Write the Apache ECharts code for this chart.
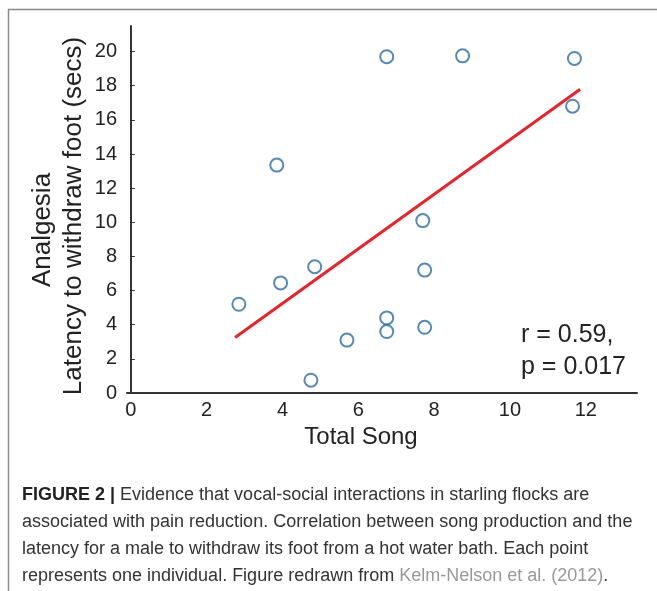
<!DOCTYPE html>
<html>
<head>
<meta charset="utf-8">
<script src="https://cdn.jsdelivr.net/npm/echarts@6/dist/echarts.min.js"></script>
<style>
html,body{margin:0;padding:0;background:#fff;}
#chart{width:657px;height:591px;}
</style>
</head>
<body>
<div id="chart"></div>
<script>
// ---- data ----
var songX   = [6.75, 8.75, 11.7, 11.65, 3.85, 7.7, 4.85, 3.95, 7.75, 2.85, 6.75, 6.75, 7.75, 5.7, 4.75];
var latency = [19.7, 19.75, 19.6, 16.8, 13.35, 10.1, 7.4, 6.45, 7.2, 5.2, 4.4, 3.6, 3.85, 3.1, 0.75];
var fitX = [2.75, 11.85];
var fitY = [3.25, 17.8];
var xTicks = [0, 2, 4, 6, 8, 10, 12];
var yTicks = [0, 2, 4, 6, 8, 10, 12, 14, 16, 18, 20];
var statLines = ['r = 0.59,', 'p = 0.017'];

var points = songX.map(function (x, i) { return [x, latency[i]]; });
var fitLine = fitX.map(function (x, i) { return [x, fitY[i]]; });

var chart = echarts.init(document.getElementById('chart'), null, {renderer: 'canvas'});
var font = 'Liberation Sans, Arial, Helvetica, sans-serif';
var axisColor = '#333';
var capSize = 18;

chart.setOption({
  animation: false,
  backgroundColor: '#fff',
  textStyle: {fontFamily: font},
  grid: {left: 127, top: 26, right: 20, bottom: 198, containLabel: false},
  xAxis: {
    type: 'value', min: -0.1, max: 13.35,
    axisLine: {show: true, lineStyle: {color: axisColor, width: 2}},
    axisTick: {show: false},
    splitLine: {show: false},
    axisLabel: {customValues: xTicks, fontSize: 20, color: '#222', margin: 7, fontFamily: font},
    name: 'Total Song', nameLocation: 'middle', nameGap: 27,
    nameTextStyle: {fontSize: 24, color: '#222', fontFamily: font, padding: [0, 42, 0, 0]}
  },
  yAxis: {
    type: 'value', min: 0, max: 21.5,
    axisLine: {show: true, lineStyle: {color: axisColor, width: 2}},
    axisTick: {show: true, inside: true, length: 4, customValues: yTicks, lineStyle: {color: axisColor, width: 1}},
    splitLine: {show: false},
    axisLabel: {customValues: yTicks, fontSize: 20, color: '#222', margin: 10, fontFamily: font}
  },
  series: [
    {
      type: 'line', data: fitLine, symbol: 'none', z: 2,
      lineStyle: {color: '#e3262b', width: 3}
    },
    {
      type: 'scatter', data: points, symbol: 'circle', symbolSize: 13, z: 3,
      itemStyle: {color: 'rgba(255,255,255,0)', borderColor: '#2d6ca3', borderWidth: 2}
    }
  ],
  graphic: [
    {type: 'rect', silent: true, shape: {x: 8.5, y: 9.5, width: 800, height: 800},
     style: {fill: 'none', stroke: '#8a8a8a', lineWidth: 1.5}},
    {type: 'text', x: 43, y: 230, rotation: Math.PI / 2,
     style: {text: 'Analgesia', font: '26px ' + font, fill: '#222', align: 'center', verticalAlign: 'middle'}},
    {type: 'text', x: 74, y: 216, rotation: Math.PI / 2,
     style: {text: 'Latency to withdraw foot (secs)', font: '26px ' + font, fill: '#222', align: 'center', verticalAlign: 'middle'}},
    {type: 'text', x: 521, y: 335,
     style: {text: statLines[0], font: '25px ' + font, fill: '#222', align: 'left', verticalAlign: 'middle'}},
    {type: 'text', x: 521, y: 367,
     style: {text: statLines[1], font: '25px ' + font, fill: '#222', align: 'left', verticalAlign: 'middle'}},
    {type: 'text', x: 22, y: 495,
     style: {text: '{b|FIGURE 2 |} Evidence that vocal-social interactions in starling flocks are',
       font: capSize + 'px ' + font, fill: '#333', verticalAlign: 'middle',
       rich: {b: {fontWeight: 'bold', fontSize: capSize, fontFamily: font, fill: '#222'}}}},
    {type: 'text', x: 22, y: 522,
     style: {text: 'associated with pain reduction. Correlation between song production and the',
       font: capSize + 'px ' + font, fill: '#333', verticalAlign: 'middle'}},
    {type: 'text', x: 22, y: 549,
     style: {text: 'latency for a male to withdraw its foot from a hot water bath. Each point',
       font: capSize + 'px ' + font, fill: '#333', verticalAlign: 'middle'}},
    {type: 'text', x: 22, y: 576,
     style: {text: 'represents one individual. Figure redrawn from {g|Kelm-Nelson et al. (2012)}.',
       font: capSize + 'px ' + font, fill: '#333', verticalAlign: 'middle',
       rich: {g: {fill: '#999', fontSize: capSize, fontFamily: font}}}}
  ]
});
</script>
</body>
</html>
